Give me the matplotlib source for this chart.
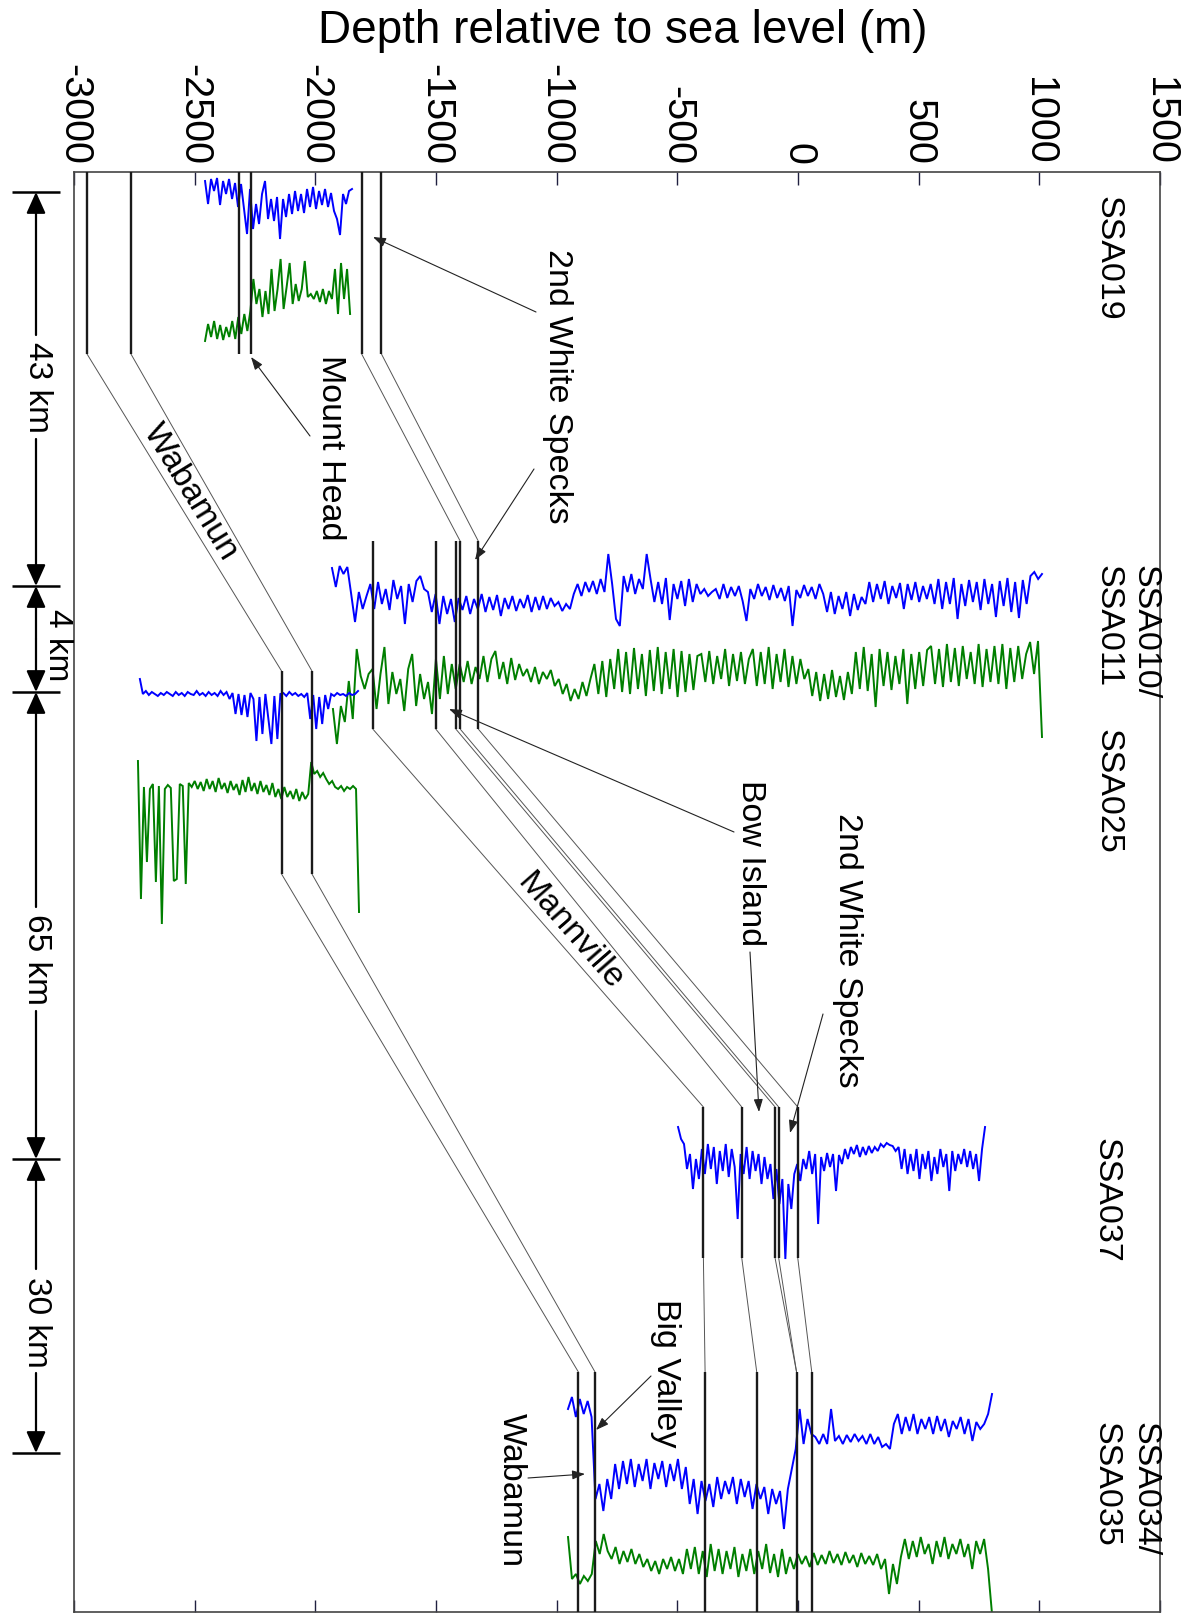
import matplotlib
matplotlib.use("Agg")
import matplotlib.pyplot as plt
import numpy as np

plt.rcParams["font.family"] = ["Liberation Sans", "DejaVu Sans"]

# --- depth axis ---
depth_ticks = [-3000, -2500, -2000, -1500, -1000, -500, 0, 500, 1000, 1500]
depth_labels = ["-3000", "-2500", "-2000", "-1500", "-1000", "-500", "0", "500", "1000", "1500"]

# --- well columns: page position (top, base) of each well track ---
well_ids = ["SSA019", "SSA010", "SSA025", "SSA037", "SSA034"]
well_top = [173, 542, 672, 1108, 1373]
well_base = [355, 730, 875, 1259, 1613]

# formation picks, m relative to sea level
picks = {
    "SSA019": [-2946, -2764, -2315, -2265, -1808, -1726],
    "SSA010": [-1762, -1501, -1418, -1400, -1325],
    "SSA025": [-2140, -2014],
    "SSA037": [-392, -233, -95, -80, -1],
    "SSA034": [-910, -841, -385, -171, -6, 57],
}

# correlation ties between wells: (well, pick index) chains
ties = [
    [("SSA019", 0), ("SSA025", 0), ("SSA034", 0)],
    [("SSA019", 1), ("SSA025", 1), ("SSA034", 1)],
    [("SSA019", 4), ("SSA010", 3)],
    [("SSA019", 5), ("SSA010", 4)],
    [("SSA010", 0), ("SSA037", 0), ("SSA034", 2)],
    [("SSA010", 1), ("SSA037", 1), ("SSA034", 3)],
    [("SSA010", 2), ("SSA037", 2), ("SSA034", 4)],
    [("SSA010", 3), ("SSA037", 3), ("SSA034", 4)],
    [("SSA010", 4), ("SSA037", 4), ("SSA034", 5)],
]

# --- log curves: depth interval and deflection readings (page units) ---
ssa019_blue_depth = (-2457, -1848)
ssa019_blue = [12, 35, 10, 22, 9, 36, 12, 25, 10, 30, 14, 38, 15, 40, 65, 20, 60, 35,
               55, 25, 12, 50, 30, 52, 28, 70, 30, 48, 25, 45, 22, 42, 25, 44, 20, 38,
               18, 40, 22, 36, 20, 38, 24, 42, 50, 66, 25, 35, 22, 20]
ssa019_green_depth = (-2457, -1856)
ssa019_green = [92, 75, 88, 72, 90, 76, 91, 78, 88, 72, 90, 68, 85, 65, 82, 62, 30, 55,
                40, 68, 42, 65, 20, 62, 40, 10, 60, 38, 14, 55, 35, 52, 40, 12, 48, 45,
                50, 42, 53, 40, 55, 42, 50, 20, 65, 14, 50, 20, 65]

ssa010_blue_depth = (-1931, 1011)
ssa010_blue = [14, 33, 12, 20, 13,
               40, 68, 38, 55, 42,
               30, 55, 28, 50, 35, 56, 26, 45, 32, 70, 30, 48, 27,
               22, 35,
               38, 58, 40, 70, 42, 60, 45, 68,
               44, 56, 42, 60, 45, 55, 40, 58, 43, 56, 41, 62, 44, 55, 42, 57, 45, 54,
               41, 58, 43, 56, 42, 55, 44, 52,
               48, 57, 50, 55,
               40, 30, 42, 28, 38,
               27, 40, 25, 38, 0, 30,
               65, 72,
               22, 38, 20, 40, 25, 35, 0,
               25, 48, 28, 50, 24, 66, 30, 45, 27, 52, 25, 48, 30, 40, 35, 42, 38,
               35, 45, 30, 44, 33, 42, 32, 47, 67, 35, 45, 30, 42, 33, 46, 31, 44, 34,
               47, 32, 72, 36, 44, 31, 42, 33, 45, 30,
               40, 58, 38, 60, 42, 55, 38, 62, 40, 56, 43, 50,
               28, 48, 30, 45, 27, 50, 32, 44, 29, 55, 30, 46, 28, 48, 32, 45, 30, 50,
               25, 55, 28, 50, 24, 65, 30, 52, 26, 48, 28, 56, 25, 50, 30, 63, 27, 52,
               24, 58, 28, 64, 26, 50,
               22, 18, 25, 20]
ssa011_green_depth = (-1927, 1011)
ssa011_green = [75, 110, 72, 88, 47, 85,
                15,
                42, 55, 40,
                35, 75, 40, 13, 70, 38, 60, 45, 77, 35, 20, 72, 40, 65, 48, 80,
                25, 65, 22, 60, 30, 55,
                30, 48, 27, 50, 33, 45,
                22, 48, 25, 17, 45, 28, 50, 24, 46, 30, 42,
                35, 48, 33, 50, 38, 45, 36, 52,
                45, 60, 50, 67, 55, 65, 48, 62, 45,
                30, 60, 27, 63, 25, 55,
                15, 58, 18, 60, 14, 55, 20, 62, 16, 57, 13, 60, 18, 55, 15, 63, 17, 58,
                20, 56, 22,
                20, 48, 17, 50, 22, 45, 15, 52, 20, 47, 18, 50, 25,
                15, 52, 18, 50, 13, 55, 20, 48, 15, 53, 22, 50, 25, 45,
                35, 62, 38, 67, 40, 65, 36, 63, 42, 66, 38, 60,
                18, 55, 13, 57, 20, 73, 15, 52, 18, 56, 22, 50, 15, 70, 20, 55, 18, 52, 16,
                12, 50, 15, 53, 10, 48, 14, 52, 12, 45, 18, 50, 10, 53, 15, 48, 12, 50,
                10, 55, 14, 48, 12, 45, 20,
                8, 40, 7, 103]

ssa025_blue_depth = (-2727, -1823)
ssa025_blue = [0, 15, 12, 16, 13, 15, 17, 14, 16, 13, 15, 17, 13, 16, 14, 17, 13, 15,
               16, 12, 16, 14, 17, 13, 16, 14, 17, 12, 16, 13, 20, 14, 35, 15, 36, 16,
               38, 14, 20, 62, 18, 55, 15, 40, 65, 17, 60, 15, 14, 17, 13, 16, 14, 17,
               15, 18, 14, 40, 16, 50, 18, 45, 16, 30, 15, 17, 14, 16, 15, 17, 14, 16,
               15, 12]
ssa025_green_depth = (-2735, -1819)
ssa025_green = [2, 140, 28, 103, 30, 25, 123, 27, 165, 30, 26, 29, 122, 120, 25, 27, 125,
                24, 28, 22, 30, 23, 32, 20, 30, 22, 33, 19, 30, 24, 34, 22, 31, 25, 36,
                21, 33, 18, 32, 24, 35, 22, 33, 26, 36, 24, 38, 30, 40, 28, 38, 32, 40,
                30, 42, 33, 40, 35, 3, 15, 12, 18, 14, 20, 25, 22, 28, 30, 27, 32, 28,
                30, 27, 30, 153]

ssa037_blue_depth = (-497, 775)
ssa037_blue = [18, 30, 35, 60, 45, 80, 50, 70, 40, 65, 35, 60, 38, 75, 42, 62, 35, 68,
               40, 58, 110, 45, 65, 38, 70, 42, 62, 45, 75, 48, 70, 55, 90, 60, 95, 70,
               150, 75, 100, 65, 55, 72, 50, 60, 42, 65, 45, 115, 48, 62, 44, 58, 45, 82,
               46, 55, 40, 50, 38, 45, 36, 48, 38, 46, 37, 44, 38, 42, 35, 38, 34, 36,
               37, 42, 38, 60, 40, 65, 45, 62, 40, 70, 45, 60, 42, 72, 48, 65, 40, 58,
               45, 82, 42, 62, 45, 55, 40, 58, 42, 60, 45, 72, 40, 18]

ssa034_blue_depth = (-953, 804)
ssa034_blue = [20, 8, 28, 10, 25, 12, 28, 110, 95, 122, 90, 110, 75, 100, 72, 95, 70, 98,
               75, 92, 70, 100, 74, 90, 72, 98, 75, 92, 70, 100, 78, 115, 90, 125, 92,
               112, 95, 118, 88, 110, 92, 105, 88, 115, 90, 108, 92, 120, 95, 110, 98,
               125, 100, 115, 102, 140, 100, 80, 60, 20, 55, 30, 45, 48, 55, 45, 55, 20,
               52, 47, 55, 46, 53, 45, 52, 47, 55, 45, 55, 48, 58, 55, 60, 35, 25, 45,
               28, 42, 25, 45, 30, 40, 28, 45, 27, 42, 30, 48, 32, 40, 28, 45, 30, 52,
               33, 40, 35, 25, 5]
ssa035_green_depth = (-953, 804)
ssa035_green = [8, 50, 45, 55, 47, 52, 45, 12, 25, 5, 22, 30, 18, 35, 22, 33, 20, 35, 25,
                38, 30, 42, 32, 45, 30, 40, 28, 42, 30, 45, 20, 40, 18, 45, 22, 48, 15,
                42, 20, 45, 22, 40, 18, 48, 25, 42, 20, 45, 22, 40, 15, 44, 25, 48, 20,
                45, 28, 40, 25, 35, 27, 38, 24, 36, 26, 35, 22, 34, 25, 36, 23, 34, 26,
                38, 24, 35, 27, 36, 25, 40, 30, 65, 35, 55, 28, 10, 30, 12, 28, 8, 25,
                15, 35, 12, 28, 8, 30, 15, 25, 10, 28, 15, 40, 12, 25, 10, 40, 85]

# curve -> (depth interval, readings, track origin on page, colour)
BLUE, GREEN = "#0000ff", "#007f00"
curves = [
    (ssa019_blue_depth, ssa019_blue, 170, BLUE),
    (ssa019_green_depth, ssa019_green, 250, GREEN),
    (ssa010_blue_depth, ssa010_blue, 555, BLUE),
    (ssa011_green_depth, ssa011_green, 635, GREEN),
    (ssa025_blue_depth, ssa025_blue, 680, BLUE),
    (ssa025_green_depth, ssa025_green, 760, GREEN),
    (ssa037_blue_depth, ssa037_blue, 1110, BLUE),
    (ssa034_blue_depth, ssa034_blue, 1390, BLUE),
    (ssa035_green_depth, ssa035_green, 1530, GREEN),
]

# distances between wells along the section
dist_km = ["43 km", "4 km", "65 km", "30 km"]

W, H = 1193, 1615
fig = plt.figure(figsize=(W / 100, H / 100), dpi=100)
fig.patch.set_facecolor("white")

ax = fig.add_axes([74 / W, (H - 1613) / H, (1160 - 74) / W, (1613 - 173) / H])
ax.set_xlim(-3000, 1500)
ax.set_ylim(1613, 173)

for (d0, d1), vals, origin, col in curves:
    depth = np.linspace(d0, d1, len(vals))
    ax.plot(depth, origin + np.asarray(vals), color=col, lw=1.4, zorder=2,
            solid_joinstyle="miter")

top_of = dict(zip(well_ids, well_top))
base_of = dict(zip(well_ids, well_base))
for w, p in picks.items():
    ax.vlines(p, top_of[w], base_of[w], color="#1a1a1a", lw=1.7, zorder=3)

for chain in ties:
    for (wa, ia), (wb, ib) in zip(chain[:-1], chain[1:]):
        ax.plot([picks[wa][ia], picks[wb][ib]], [base_of[wa], top_of[wb]],
                color="#555555", lw=0.7, zorder=1)

ax.set_xticks(depth_ticks)
ax.set_xticklabels(depth_labels)
ax.set_yticks([])
ax.tick_params(axis="x", top=True, bottom=True, labeltop=True, labelbottom=False,
               direction="in", length=9, width=1, color="#202040", pad=6,
               labelsize=28.5, labelrotation=-90)
for s in ax.spines.values():
    s.set_color("#444444")
    s.set_linewidth(1.2)

fig.text(623 / W, 1 - 31 / H, "Depth relative to sea level (m)", fontsize=33,
         ha="center", va="center")

# overlay in page pixels for annotations
ov = fig.add_axes([0, 0, 1, 1])
ov.set_xlim(0, W)
ov.set_ylim(H, 0)
ov.axis("off")

def vtext(x, y, s, va="center", size=24.5):
    ov.text(x, y, s, rotation=-90, ha="center", va=va, fontsize=size)

def pointer(start, end):
    ov.annotate("", xy=end, xytext=start,
                arrowprops=dict(arrowstyle="-|>,head_length=0.7,head_width=0.25",
                                color="#222222", lw=0.8, shrinkA=0, shrinkB=0,
                                mutation_scale=11))

# well names
vtext(1108, 196, "SSA019", va="top")
vtext(1145, 565, "SSA010/", va="top")
vtext(1108, 565, "SSA011", va="top")
vtext(1108, 729, "SSA025", va="top")
vtext(1106, 1138, "SSA037", va="top")
vtext(1145, 1422, "SSA034/", va="top")
vtext(1106, 1422, "SSA035", va="top")

# formation labels
vtext(557, 386, "2nd White Specks")
pointer((536, 313), (373, 238))
pointer((534, 470), (475, 561))
vtext(331, 448, "Mount Head")
pointer((310, 437), (251, 358))
ov.text(190, 492, "Wabamun", rotation=-58.45, rotation_mode="anchor",
        ha="center", va="center", fontsize=24.5)
ov.text(570, 931, "Mannville", rotation=-48.8, rotation_mode="anchor",
        ha="center", va="center", fontsize=24.5)
vtext(750, 863, "Bow Island")
pointer((734, 833), (449, 710))
pointer((750, 953), (759, 1113))
vtext(848, 950, "2nd White Specks")
pointer((823, 1015), (790, 1134))
vtext(666, 1373, "Big Valley")
pointer((651, 1377), (596, 1431))
vtext(511, 1490, "Wabamun")
pointer((528, 1479), (585, 1475))

# distance scale
bar_y = [193, 587, 693, 1160, 1454]
lab_y = [388, 645, 960, 1322]
lab_x = [37, 57, 36, 36]
big_head = dict(arrowstyle="-|>,head_length=1.0,head_width=0.45", color="black",
                lw=1.6, shrinkA=0, shrinkB=0, mutation_scale=13)
ov.hlines(bar_y, 12, 60, color="black", lw=1.8)
for i, lab in enumerate(dist_km):
    y0, y1 = bar_y[i], bar_y[i + 1]
    vtext(lab_x[i], lab_y[i], lab, size=24)
    if lab == "4 km":
        ov.annotate("", xy=(36, y0), xytext=(36, (y0 + y1) / 2), arrowprops=big_head)
        ov.annotate("", xy=(36, y1), xytext=(36, (y0 + y1) / 2), arrowprops=big_head)
    else:
        ov.annotate("", xy=(36, y0), xytext=(36, lab_y[i] - 52), arrowprops=big_head)
        ov.annotate("", xy=(36, y1), xytext=(36, lab_y[i] + 52), arrowprops=big_head)

fig.savefig("out.png", dpi=100, facecolor="white")
